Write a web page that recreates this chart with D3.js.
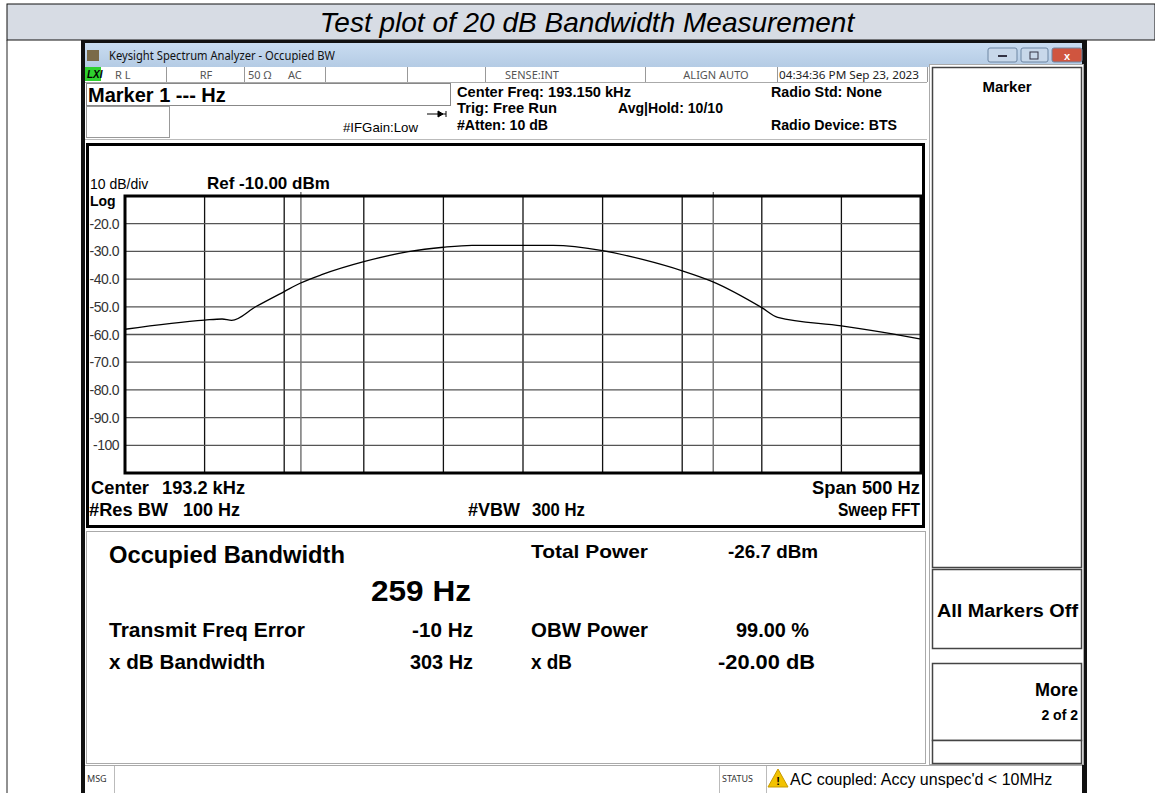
<!DOCTYPE html>
<html>
<head>
<meta charset="utf-8">
<script src="https://cdn.jsdelivr.net/npm/d3@7"></script>
<style>
  html, body { margin: 0; padding: 0; background: #fff; }
  svg text { font-family: "Liberation Sans", Arial, sans-serif; }
  .ui { font-family: "Noto Sans", "Open Sans", sans-serif; }
</style>
</head>
<body>
<div id="chart"></div>
<script>
// trace (Hz, dBm)
const freqHz = [192900, 192950, 192961, 192967, 192982, 193000, 193010, 193024, 193050, 193078,
  193100, 193118, 193151, 193169, 193200, 193225, 193250, 193269, 193300, 193310, 193350, 193382, 193400];
const traceDbm = [-58.1, -54.8, -54.4, -54.9, -50.0, -44.5, -41.5, -38.3, -33.7, -30.1,
  -28.5, -27.8, -27.8, -27.8, -29.7, -32.9, -37.0, -40.9, -50.3, -53.8, -56.9, -59.8, -61.7];
const yTickValues = [-20, -30, -40, -50, -60, -70, -80, -90, -100];
const yTickLabels = ['-20.0', '-30.0', '-40.0', '-50.0', '-60.0', '-70.0', '-80.0', '-90.0', '-100'];
const obwEdgesHz = [193010.5, 193269.5];

const resultRows = [
  ['Transmit Freq Error', '-10 Hz', 'OBW Power', '99.00 %'],
  ['x dB Bandwidth', '303 Hz', 'x dB', '-20.00 dB']
];

const W = 1155, H = 793;
const svg = d3.select('#chart').append('svg').attr('width', W).attr('height', H);

// bold text helper, optionally squeezed to the width seen on the screenshot
function txt(x, y, t, size, opts = {}) {
  const el = svg.append('text').attr('x', x).attr('y', y).style('font-size', size + 'px').text(t);
  if (opts.bold !== false) el.style('font-weight', 'bold');
  if (opts.anchor) el.attr('text-anchor', opts.anchor);
  if (opts.len) el.attr('textLength', opts.len).attr('lengthAdjust', 'spacingAndGlyphs');
  if (opts.fill) el.attr('fill', opts.fill);
  return el;
}

// page title band
svg.append('rect').attr('x', 7).attr('y', 4).attr('width', W - 7).attr('height', 36)
  .attr('fill', '#d7dce4').attr('stroke', '#111').attr('stroke-width', 1);
svg.append('line').attr('x1', 7).attr('x2', 7).attr('y1', 40).attr('y2', H)
  .attr('stroke', '#222').attr('stroke-width', 1);
svg.append('text').attr('x', 587).attr('y', 32).attr('text-anchor', 'middle')
  .style('font-size', '28px').style('font-style', 'italic').text('Test plot of 20 dB Bandwidth Measurement');

// analyzer window frame
svg.append('rect').attr('x', 81).attr('y', 40).attr('width', 1006).attr('height', H - 40).attr('fill', '#111');
const tb = svg.append('defs').append('linearGradient').attr('id', 'tbar').attr('x1', 0).attr('x2', 0).attr('y1', 0).attr('y2', 1);
tb.append('stop').attr('offset', 0).attr('stop-color', '#c9dcf0');
tb.append('stop').attr('offset', 1).attr('stop-color', '#b4cbe4');
svg.append('rect').attr('x', 85).attr('y', 43).attr('width', 997).attr('height', 24).attr('fill', 'url(#tbar)');
svg.append('rect').attr('x', 87).attr('y', 50).attr('width', 12).attr('height', 11).attr('fill', '#7a6a48');
svg.append('text').attr('class', 'ui').attr('x', 109).attr('y', 60).style('font-size', '12px').attr('fill', '#111')
  .attr('textLength', 226).attr('lengthAdjust', 'spacingAndGlyphs')
  .text('Keysight Spectrum Analyzer - Occupied BW');
// window buttons
[[988, 29, '#c8d8ea'], [1021, 27, '#c8d8ea'], [1052, 30, '#d0553f']].forEach(([bx, w, c]) => {
  svg.append('rect').attr('x', bx).attr('y', 48).attr('width', w).attr('height', 14).attr('rx', 2)
    .attr('fill', c).attr('stroke', '#6d86a3');
});
svg.append('rect').attr('x', 998).attr('y', 55).attr('width', 9).attr('height', 2).attr('fill', '#334');
svg.append('rect').attr('x', 1030).attr('y', 52).attr('width', 8).attr('height', 7).attr('fill', 'none').attr('stroke', '#334');
txt(1067, 60, 'x', 11, { anchor: 'middle', fill: '#fff' });

// main white client area
svg.append('rect').attr('x', 85).attr('y', 67).attr('width', 997).attr('height', H - 67).attr('fill', '#fff');

// status row
svg.append('rect').attr('x', 85).attr('y', 67).attr('width', 16).attr('height', 14).attr('fill', '#2fd12f');
svg.append('text').attr('x', 87).attr('y', 78).style('font-size', '10px').style('font-weight', 'bold')
  .style('font-style', 'italic').text('LXI');
const cellX = [166, 244, 325, 407, 485, 645, 777, 927];
cellX.forEach(cx => svg.append('line').attr('x1', cx + 0.5).attr('x2', cx + 0.5).attr('y1', 67).attr('y2', 82)
  .attr('stroke', '#999'));
svg.append('line').attr('x1', 85).attr('x2', 927).attr('y1', 82.5).attr('y2', 82.5).attr('stroke', '#aaa');
const cellText = [[115, 'start', 'R L'], [206, 'middle', 'RF'], [248, 'start', '50 Ω'], [288, 'start', 'AC'],
  [532, 'middle', 'SENSE:INT'], [716, 'middle', 'ALIGN AUTO']];
cellText.forEach(([cx, a, t]) => svg.append('text').attr('class', 'ui').attr('x', cx).attr('y', 79)
  .attr('text-anchor', a).attr('fill', '#555').style('font-size', '11px').text(t));
svg.append('text').attr('class', 'ui').attr('x', 779).attr('y', 79).attr('fill', '#222')
  .attr('textLength', 140).attr('lengthAdjust', 'spacingAndGlyphs')
  .style('font-size', '11.5px').text('04:34:36 PM Sep 23, 2023');

// marker readout boxes
svg.append('rect').attr('x', 86.5).attr('y', 83.5).attr('width', 364).attr('height', 22)
  .attr('fill', '#fff').attr('stroke', '#888');
txt(88, 102, 'Marker 1 --- Hz', 20);
svg.append('rect').attr('x', 86.5).attr('y', 106.5).attr('width', 83).attr('height', 31)
  .attr('fill', '#fff').attr('stroke', '#999');
svg.append('line').attr('x1', 85).attr('x2', 927).attr('y1', 139.5).attr('y2', 139.5).attr('stroke', '#bbb');
txt(343, 132, '#IFGain:Low', 13.5, { bold: false, len: 75 });
svg.append('path').attr('d', 'M427,114 H446 M438,111 L443,114 L438,117 Z M446,111 V117')
  .attr('stroke', '#000').attr('fill', '#000');

const hdr = [[457, 97, 'Center Freq: 193.150 kHz', 174], [457, 113, 'Trig: Free Run', 100], [457, 130, '#Atten: 10 dB', 91],
  [618, 113, 'Avg|Hold: 10/10', 105], [771, 97, 'Radio Std: None', 111], [771, 130, 'Radio Device: BTS', 126]];
hdr.forEach(([hx, hy, t, w]) => txt(hx, hy, t, 14.5, { len: w }));

// right soft-key panel
svg.append('rect').attr('x', 929.5).attr('y', 64.5).attr('width', 154).attr('height', 700)
  .attr('fill', '#fff').attr('stroke', '#aaa');
const keys = [[67, 500], [569, 79], [663, 77], [740, 23]];
keys.forEach(([ky, h]) => svg.append('rect').attr('x', 932.5).attr('y', ky + 0.5).attr('width', 149).attr('height', h)
  .attr('fill', '#fff').attr('stroke', '#444').attr('stroke-width', 1.5));
txt(1007, 92, 'Marker', 15, { anchor: 'middle' });
txt(1078, 617, 'All Markers Off', 18, { anchor: 'end', len: 141 });
txt(1078, 696, 'More', 18, { anchor: 'end' });
txt(1078, 720, '2 of 2', 14, { anchor: 'end' });

// graph window
svg.append('rect').attr('x', 87.5).attr('y', 144.5).attr('width', 836).attr('height', 382)
  .attr('fill', '#fff').attr('stroke', '#000').attr('stroke-width', 3);

const plot = { left: 125, right: 921, top: 196, bottom: 473 };
const x = d3.scaleLinear().domain([192900, 193400]).range([plot.left, plot.right]);
const y = d3.scaleLinear().domain([-110, -10]).range([plot.bottom, plot.top]);

const g = svg.append('g');
// vertical divisions
g.selectAll('.vgrid').data(x.ticks(10).slice(1, -1)).enter().append('line')
  .attr('x1', d => x(d)).attr('x2', d => x(d)).attr('y1', plot.top).attr('y2', plot.bottom)
  .attr('stroke', '#111').attr('stroke-width', 1.3);
// horizontal divisions
g.selectAll('.hgrid').data(yTickValues).enter().append('line')
  .attr('x1', plot.left).attr('x2', plot.right).attr('y1', d => y(d)).attr('y2', d => y(d))
  .attr('stroke', '#555').attr('stroke-width', 1.3);
// OBW edge lines
g.selectAll('.obw').data(obwEdgesHz).enter().append('line')
  .attr('x1', d => x(d)).attr('x2', d => x(d)).attr('y1', plot.top).attr('y2', plot.bottom)
  .attr('stroke', '#777').attr('stroke-width', 1.5);
g.selectAll('.obwtick').data(obwEdgesHz).enter().append('line')
  .attr('x1', d => x(d)).attr('x2', d => x(d)).attr('y1', plot.top - 4).attr('y2', plot.top)
  .attr('stroke', '#333').attr('stroke-width', 1);

// trace
const line = d3.line().x((d, i) => x(freqHz[i])).y(d => y(d)).curve(d3.curveMonotoneX);
g.append('path').datum(traceDbm).attr('d', line).attr('fill', 'none')
  .attr('stroke', '#000').attr('stroke-width', 1.3);

g.append('rect').attr('x', plot.left).attr('y', plot.top).attr('width', plot.right - plot.left)
  .attr('height', plot.bottom - plot.top).attr('fill', 'none').attr('stroke', '#000').attr('stroke-width', 3);

// y labels
g.selectAll('.ylab').data(yTickValues).enter().append('text')
  .attr('x', 119).attr('y', d => y(d) + 5).attr('text-anchor', 'end')
  .attr('fill', '#333').style('font-size', '14px').style('letter-spacing', '-0.5px')
  .text((d, i) => yTickLabels[i]);

txt(90, 189, '10 dB/div', 14, { bold: false });
txt(90, 206, 'Log', 14);
txt(207, 189, 'Ref -10.00 dBm', 17);

// footer of graph window
const foot = [[91, 494, 'Center', 58], [162, 494, '193.2 kHz', 83], [89, 516, '#Res BW', 79], [183, 516, '100 Hz', 57],
  [468, 516, '#VBW', 52], [532, 516, '300 Hz', 53], [812, 494, 'Span 500 Hz', 108], [838, 516, 'Sweep FFT', 82]];
foot.forEach(([fx, fy, t, w]) => txt(fx, fy, t, 18, { len: w }));

// measurement results panel
svg.append('rect').attr('x', 86.5).attr('y', 531.5).attr('width', 839).attr('height', 232)
  .attr('fill', '#fff').attr('stroke', '#aaa');
txt(109, 563, 'Occupied Bandwidth', 23, { len: 236 });
txt(531, 558, 'Total Power', 19, { len: 117 });
txt(728, 558, '-26.7 dBm', 19, { len: 90 });
txt(371, 601, '259 Hz', 29, { len: 100 });
const colW = [[196, 61, 117, 73], [156, 63, 41, 97]];
const colStart = [[109, 412, 531, 736], [109, 410, 531, 718]];
resultRows.forEach((r, i) => {
  const ry = 637 + i * 32;
  r.forEach((t, j) => txt(colStart[i][j], ry, t, 19.5, { len: colW[i][j] }));
});

// message / status bar
svg.append('rect').attr('x', 85).attr('y', 765).attr('width', 997).attr('height', H - 765).attr('fill', '#fff');
svg.append('line').attr('x1', 85).attr('x2', 1082).attr('y1', 765.5).attr('y2', 765.5).attr('stroke', '#aaa');
[114, 719, 766].forEach(lx => svg.append('line').attr('x1', lx + 0.5).attr('x2', lx + 0.5).attr('y1', 766).attr('y2', H)
  .attr('stroke', '#bbb'));
svg.append('text').attr('class', 'ui').attr('x', 87).attr('y', 782).style('font-size', '9px').attr('fill', '#333').text('MSG');
svg.append('text').attr('class', 'ui').attr('x', 722).attr('y', 782).style('font-size', '9px').attr('fill', '#333').text('STATUS');
svg.append('path').attr('d', 'M778,769 L788,787 L768,787 Z').attr('fill', '#f2c200').attr('stroke', '#c79a00');
txt(778, 785, '!', 11, { anchor: 'middle' });
txt(790, 785, 'AC coupled: Accy unspec\'d < 10MHz', 16, { bold: false });
</script>
</body>
</html>
